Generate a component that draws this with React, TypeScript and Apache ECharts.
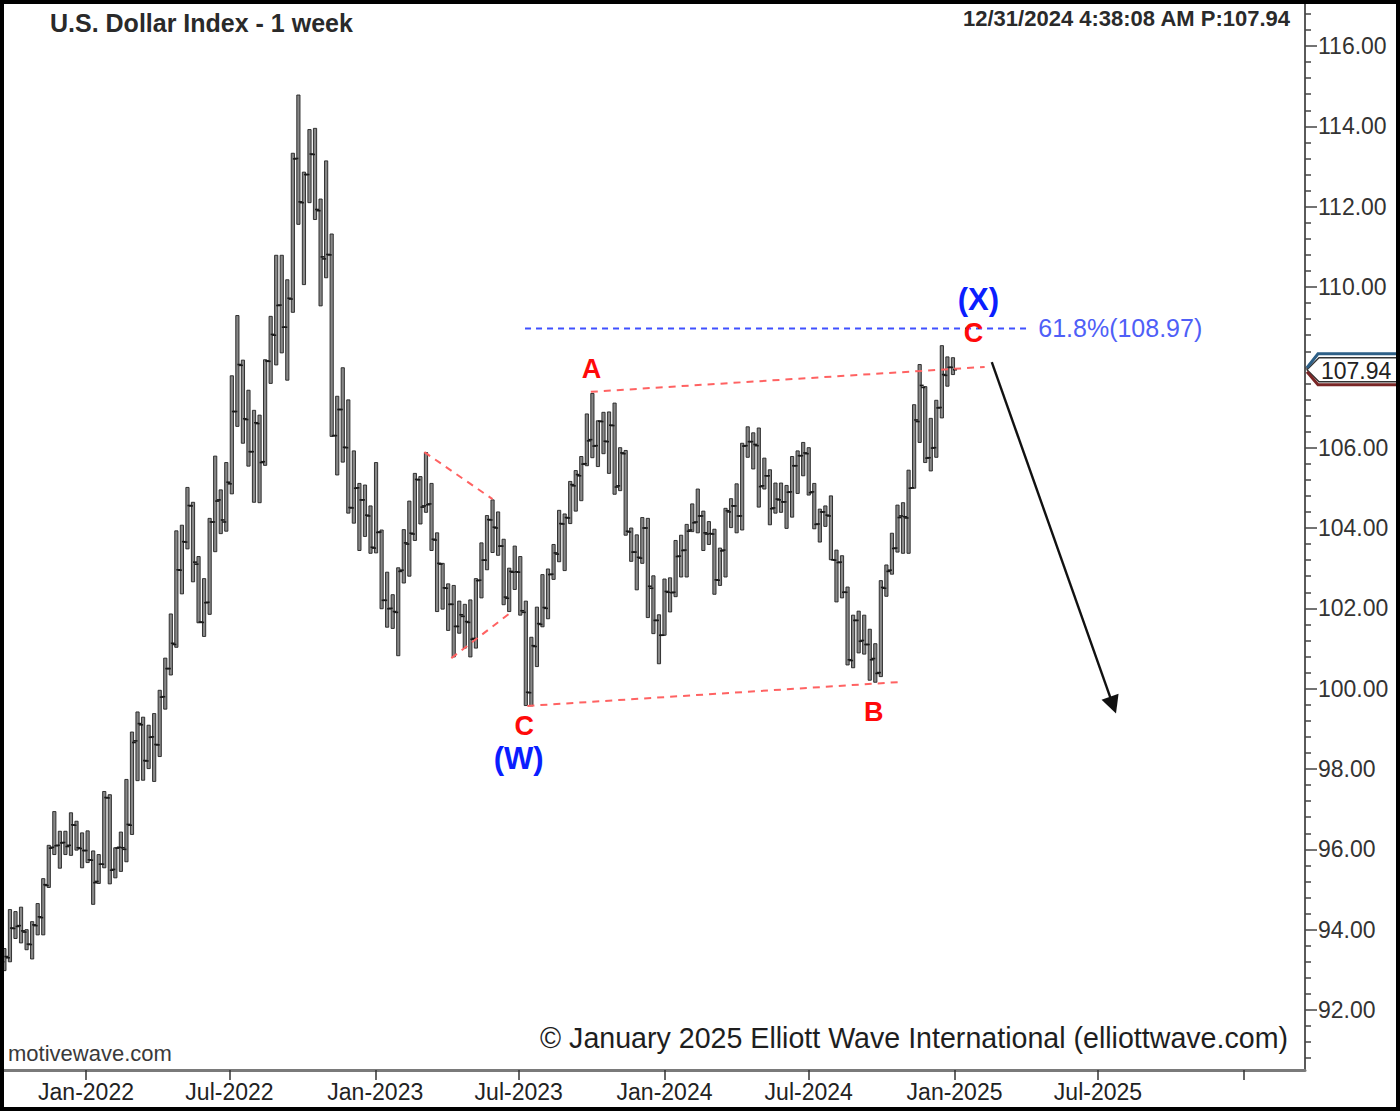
import React, { useEffect, useRef } from "react";
import * as echarts from "echarts";

// ---------- data (weekly OHLC of the U.S. Dollar Index, weeks start on Monday) ----------
const FIRST_WEEK = "2021-09-20";

const OHLC_2021: number[][] = [
  [93.2, 93.53, 92.98, 93.33], [93.3, 94.5, 93.2, 94.04], [94.03, 94.45, 93.78, 94.08],
  [94.1, 94.56, 93.67, 93.97], [93.94, 94.0, 93.5, 93.64], [93.63, 94.2, 93.27, 94.12],
  [94.1, 94.65, 93.87, 94.32], [94.3, 95.27, 93.87, 95.12], [95.1, 96.1, 95.05, 96.03],
  [96.05, 96.94, 95.87, 96.09], [96.1, 96.45, 95.53, 96.16], [96.17, 96.45, 95.87, 96.07],
  [96.1, 96.91, 95.85, 96.61], [96.6, 96.7, 95.98, 96.04], [96.02, 96.41, 95.54, 95.97],
];

const OHLC_2022: number[][] = [
  [95.97, 96.46, 95.67, 95.74], [95.73, 95.96, 94.63, 95.17], [95.2, 95.87, 95.15, 95.63],
  [95.63, 97.44, 95.54, 97.29], [97.28, 97.36, 95.14, 95.48], [95.5, 96.04, 95.29, 96.03],
  [96.05, 96.43, 95.45, 96.04], [96.0, 97.74, 95.69, 96.62], [96.6, 98.92, 96.37, 98.66],
  [98.7, 99.42, 97.71, 99.13], [99.1, 99.29, 97.72, 98.21], [98.2, 99.09, 98.01, 98.79],
  [98.8, 99.38, 97.69, 98.61], [98.6, 99.96, 98.31, 99.79], [99.8, 100.76, 99.49, 100.5],
  [100.5, 101.86, 100.34, 101.13], [101.1, 103.93, 101.03, 102.96], [102.95, 104.07, 102.36, 103.66],
  [103.65, 105.01, 103.48, 104.56], [104.55, 104.64, 102.66, 103.15], [103.1, 103.29, 101.64, 101.66],
  [101.65, 102.74, 101.3, 102.14], [102.15, 104.24, 101.85, 104.15], [104.15, 105.79, 103.41, 104.67],
  [104.7, 104.95, 103.86, 104.2], [104.15, 105.63, 103.92, 105.14], [105.1, 107.79, 104.85, 106.9],
  [106.9, 109.29, 106.53, 108.07], [108.05, 108.18, 106.11, 106.72], [106.7, 107.43, 105.54, 105.9],
  [105.9, 106.93, 104.64, 106.62], [106.6, 106.81, 104.63, 105.63], [105.65, 108.19, 105.56, 108.16],
  [108.15, 109.27, 107.6, 108.82], [108.8, 110.79, 108.06, 109.54], [109.55, 110.79, 108.36, 109.0],
  [109.0, 110.18, 107.68, 109.72], [109.7, 113.33, 109.37, 113.19], [113.2, 114.78, 111.56, 112.12],
  [112.1, 112.86, 110.06, 112.8], [112.8, 113.92, 112.1, 113.31], [113.3, 113.95, 111.68, 111.93],
  [111.9, 112.19, 109.53, 110.75], [110.7, 113.14, 110.23, 110.81], [110.8, 111.32, 106.28, 106.3],
  [106.3, 107.28, 105.32, 106.95], [106.95, 107.99, 105.64, 106.01], [106.0, 107.19, 104.37, 104.51],
  [104.5, 105.92, 104.12, 104.99], [105.0, 105.11, 103.44, 104.7], [104.7, 105.07, 103.79, 104.32],
  [104.3, 104.55, 103.37, 103.52],
];

const OHLC_2023: number[][] = [
  [103.5, 105.63, 103.38, 103.89], [103.9, 103.95, 101.99, 102.2], [102.2, 102.9, 101.53, 101.99],
  [102.0, 102.34, 101.5, 101.92], [101.9, 103.01, 100.82, 102.92], [102.95, 103.96, 102.63, 103.63],
  [103.6, 104.67, 102.8, 103.87], [103.85, 105.36, 103.69, 105.21], [105.2, 105.28, 104.1, 104.52],
  [104.55, 105.88, 104.39, 104.58], [104.6, 105.11, 103.44, 103.72], [103.7, 103.88, 101.92, 103.12],
  [103.1, 103.12, 101.98, 102.51], [102.5, 102.61, 101.45, 102.1], [102.1, 102.57, 100.79, 101.55],
  [101.55, 102.18, 101.38, 101.84], [101.8, 102.1, 101.01, 101.67], [101.65, 102.21, 100.79, 101.23],
  [101.25, 102.74, 101.01, 102.69], [102.7, 103.63, 102.26, 103.2], [103.2, 104.31, 102.96, 104.21],
  [104.2, 104.7, 103.39, 104.02], [104.0, 104.4, 103.32, 103.55], [103.55, 103.72, 102.09, 102.28],
  [102.25, 103.0, 101.92, 102.92], [102.9, 103.55, 102.47, 102.91], [102.9, 103.29, 101.83, 101.94],
  [101.9, 102.18, 99.58, 99.91], [99.9, 101.28, 99.57, 101.07], [101.05, 102.03, 100.55, 101.62],
  [101.6, 102.84, 101.54, 102.02], [102.0, 102.98, 101.74, 102.84], [102.85, 103.59, 102.72, 103.38],
  [103.35, 104.44, 103.16, 104.11], [104.1, 104.35, 102.94, 104.26], [104.25, 105.16, 104.11, 105.08],
  [105.05, 105.43, 104.42, 105.33], [105.3, 105.78, 104.68, 105.59], [105.6, 106.84, 105.55, 106.17],
  [106.2, 107.35, 105.75, 106.04], [106.05, 106.67, 105.53, 106.66], [106.65, 106.88, 105.85, 106.16],
  [106.15, 106.89, 105.36, 106.56], [106.55, 107.11, 104.84, 105.02], [105.05, 106.0, 104.93, 105.87],
  [105.85, 105.93, 103.82, 103.92], [103.9, 104.0, 103.17, 103.4], [103.4, 103.83, 102.46, 103.27],
  [103.25, 104.26, 103.12, 104.0], [104.0, 104.24, 101.77, 102.55], [102.5, 102.81, 101.37, 101.7],
  [101.7, 101.84, 100.62, 101.33],
];

const OHLC_2024: number[][] = [
  [101.33, 102.73, 101.33, 102.42], [102.4, 102.76, 101.91, 102.39], [102.4, 103.69, 102.29, 103.29],
  [103.3, 103.82, 102.78, 103.44], [103.45, 104.09, 102.78, 103.92], [103.95, 104.6, 103.91, 104.13],
  [104.15, 104.97, 103.88, 104.3], [104.3, 104.42, 103.44, 103.88], [103.85, 104.16, 103.59, 103.86],
  [103.85, 103.97, 102.35, 102.71], [102.7, 103.5, 102.57, 103.43], [103.45, 104.49, 102.78, 104.43],
  [104.4, 104.73, 104.01, 104.55], [104.55, 105.1, 103.88, 104.3], [104.3, 106.11, 103.95, 106.04],
  [106.05, 106.52, 105.76, 106.15], [106.15, 106.37, 105.47, 106.08], [106.05, 106.49, 104.52, 105.03],
  [105.05, 105.74, 104.97, 105.3], [105.3, 105.45, 104.08, 104.48], [104.5, 105.12, 104.37, 104.72],
  [104.7, 105.12, 104.39, 104.65], [104.65, 105.06, 103.99, 104.89], [104.9, 105.78, 104.27, 105.55],
  [105.55, 105.92, 104.86, 105.8], [105.8, 106.13, 105.3, 105.87], [105.85, 106.0, 104.82, 104.88],
  [104.9, 105.11, 103.98, 104.09], [104.1, 104.47, 103.65, 104.4], [104.4, 104.55, 104.04, 104.32],
  [104.3, 104.8, 103.21, 103.21], [103.2, 103.45, 102.16, 103.14], [103.15, 103.31, 102.26, 102.4],
  [102.4, 102.53, 100.59, 100.72], [100.7, 101.83, 100.52, 101.7], [101.7, 101.93, 100.89, 101.18],
  [101.2, 101.83, 100.86, 101.1], [101.1, 101.48, 100.21, 100.72], [100.75, 101.12, 100.16, 100.38],
  [100.4, 102.69, 100.3, 102.52], [102.5, 103.08, 102.3, 102.92], [102.95, 103.87, 102.85, 103.49],
  [103.5, 104.57, 103.4, 104.26], [104.3, 104.63, 103.37, 104.28], [104.25, 105.44, 103.37, 104.99],
  [105.0, 107.07, 104.99, 106.69], [106.65, 108.07, 106.13, 107.55], [107.5, 107.52, 105.63, 105.74],
  [105.75, 106.73, 105.42, 105.99], [106.0, 107.18, 105.76, 106.99], [107.0, 108.54, 106.74, 107.82],
  [107.8, 108.26, 107.53, 108.0], [108.0, 108.24, 107.82, 107.94],
];

const LAST_PRICE = 107.94;
const FIB_LEVEL = 108.97;

// axis ticks / labels
const X_TICK_DATES = [
  "2022-01-01", "2022-07-01", "2023-01-01", "2023-07-01", "2024-01-01",
  "2024-07-01", "2025-01-01", "2025-07-01", "2026-01-01",
];
const X_LABEL_DATES = X_TICK_DATES.slice(0, 8);
const Y_MAJOR = [92, 94, 96, 98, 100, 102, 104, 106, 108, 110, 112, 114, 116];
// 108.00 sits under the last-price tag and is not shown
const Y_LABELS = Y_MAJOR.filter((v) => v !== 108);

// annotation anchors (data coordinates)
const CHANNEL_LOW = [["2023-07-12", 99.57], ["2024-10-27", 100.17]];
const CHANNEL_HIGH = [["2023-09-30", 107.39], ["2025-02-08", 108.01]];
const TRI_TOP = [["2023-03-04", 105.89], ["2023-05-29", 104.72]];
const TRI_BOTTOM = [["2023-04-07", 100.76], ["2023-06-20", 101.88]];
const FIB_LINE = [["2023-07-09", FIB_LEVEL], ["2025-04-06", FIB_LEVEL]];
const ARROW = [["2025-02-17", 108.13], ["2025-07-20", 99.59]];
const WAVE_LABELS = [
  { text: "A", date: "2023-10-01", value: 107.96, kind: "red" },
  { text: "B", date: "2024-09-21", value: 99.42, kind: "red" },
  { text: "C", date: "2023-07-08", value: 99.07, kind: "red" },
  { text: "(W)", date: "2023-07-01", value: 98.25, kind: "blue" },
  { text: "C", date: "2025-01-25", value: 108.855, kind: "red" },
  { text: "(X)", date: "2025-01-31", value: 109.7, kind: "blue" },
];
const FIB_LABEL = { text: "61.8%(108.97)", date: "2025-04-16", value: 108.97 };

// ---------- helpers ----------
const DAY = 86400000;
const toTime = (s: string) =>
  Date.UTC(+s.slice(0, 4), +s.slice(5, 7) - 1, +s.slice(8, 10));
const MONTHS = ["Jan", "Feb", "Mar", "Apr", "May", "Jun", "Jul", "Aug", "Sep", "Oct", "Nov", "Dec"];
const FONT = "'Liberation Sans', Arial, Helvetica, sans-serif";
const RED = "#ff0a0a";
const BLUE = "#0a1eff";

export default function App() {
  const ref = useRef<HTMLDivElement>(null);

  useEffect(() => {
    if (!ref.current) return;
    const chart = echarts.init(ref.current, undefined, { renderer: "svg" });

    const all = [...OHLC_2021, ...OHLC_2022, ...OHLC_2023, ...OHLC_2024];
    const t0 = toTime(FIRST_WEEK);
    const bars = all.map((r, i) => [t0 + i * 7 * DAY, r[0], r[1], r[2], r[3]]);

    const xMin = Date.UTC(2021, 8, 19, 12);
    const xMax = Date.UTC(2026, 2, 19, 6);
    const yMin = 90.506;
    const yMax = 117.046;

    const minor: number[] = [];
    for (let k = 0; k * 0.4 + 90.8 < yMax; k++) {
      const v = Math.round((90.8 + k * 0.4) * 10) / 10;
      if (Math.abs(v / 2 - Math.round(v / 2)) > 1e-6) minor.push(v);
    }

    const seg = (pts: (string | number)[][]) =>
      pts.map((p) => [toTime(p[0] as string), p[1] as number]);

    const dashed = (pts: (string | number)[][], color: string, dash: number[]) => ({
      type: "line",
      data: seg(pts),
      showSymbol: false,
      symbol: "none",
      silent: true,
      z: 4,
      lineStyle: { color, width: 2, type: dash, opacity: 1 },
      xAxisIndex: 0,
      yAxisIndex: 0,
    });

    const labelData = WAVE_LABELS.map((w) => ({
      value: [toTime(w.date), w.value],
      label: {
        show: true,
        formatter: w.text,
        position: "inside",
        color: w.kind === "red" ? RED : BLUE,
        opacity: 1,
        fontFamily: FONT,
        fontWeight: "bold",
        fontSize: w.kind === "red" ? 27 : 31,
      },
    }));

    const option: any = {
      animation: false,
      backgroundColor: "#ffffff",
      grid: { left: 4, right: 95, top: 4, bottom: 41, containLabel: false },
      xAxis: {
        type: "value",
        min: xMin,
        max: xMax,
        scale: true,
        splitLine: { show: false },
        axisLine: { show: true, onZero: false, lineStyle: { color: "#7a7a7a", width: 3 } },
        axisTick: {
          show: true,
          length: 10,
          lineStyle: { color: "#333", width: 1.5 },
          customValues: X_TICK_DATES.map(toTime),
        },
        axisLabel: {
          show: true,
          customValues: X_LABEL_DATES.map(toTime),
          margin: 10,
          fontSize: 23,
          fontFamily: FONT,
          color: "#222",
          formatter: (v: number) => {
            const d = new Date(v);
            return MONTHS[d.getUTCMonth()] + "-" + d.getUTCFullYear();
          },
        },
      },
      yAxis: [
        {
          type: "value",
          position: "right",
          min: yMin,
          max: yMax,
          scale: true,
          splitLine: { show: false },
          axisLine: { show: true, lineStyle: { color: "#5a5a5a", width: 2 } },
          axisTick: {
            show: true,
            length: 12,
            lineStyle: { color: "#444", width: 1.5 },
            customValues: Y_MAJOR,
          },
          axisLabel: {
            show: true,
            customValues: Y_LABELS,
            margin: 13,
            fontSize: 23,
            fontFamily: FONT,
            color: "#333",
            formatter: (v: number) => v.toFixed(2),
          },
        },
        {
          type: "value",
          position: "right",
          min: yMin,
          max: yMax,
          scale: true,
          splitLine: { show: false },
          axisLine: { show: false },
          axisTick: {
            show: true,
            length: 6,
            lineStyle: { color: "#444", width: 1.5 },
            customValues: minor,
          },
          axisLabel: { show: false },
        },
      ],
      series: [
        {
          type: "custom",
          name: "DXY",
          data: bars,
          dimensions: ["time", "open", "high", "low", "close"],
          encode: { x: 0, y: [1, 2, 3, 4] },
          xAxisIndex: 0,
          yAxisIndex: 0,
          z: 3,
          renderItem: (params: any, api: any) => {
            const t = api.value(0);
            const pO = api.coord([t, api.value(1)]);
            const pH = api.coord([t, api.value(2)]);
            const pL = api.coord([t, api.value(3)]);
            const pC = api.coord([t, api.value(4)]);
            const x = pH[0];
            const bw = 3.2;
            return {
              type: "group",
              children: [
                {
                  type: "rect",
                  shape: { x: x - bw / 2, y: pH[1], width: bw, height: Math.max(1, pL[1] - pH[1]) },
                  style: { fill: "#878787", stroke: "#222", lineWidth: 0.9 },
                },
                {
                  type: "line",
                  shape: { x1: x - bw / 2 - 2.4, y1: pO[1], x2: x, y2: pO[1] },
                  style: { stroke: "#1a1a1a", lineWidth: 1.6 },
                },
                {
                  type: "line",
                  shape: { x1: x, y1: pC[1], x2: x + bw / 2 + 2.4, y2: pC[1] },
                  style: { stroke: "#1a1a1a", lineWidth: 1.6 },
                },
              ],
            };
          },
        },
        dashed(CHANNEL_LOW, "#ff6262", [7, 6]),
        dashed(CHANNEL_HIGH, "#ff6262", [7, 6]),
        dashed(TRI_TOP, "#ff6262", [7, 6]),
        dashed(TRI_BOTTOM, "#ff6262", [7, 6]),
        dashed(FIB_LINE, "#3f50ff", [6, 5]),
        {
          type: "lines",
          coordinateSystem: "cartesian2d",
          xAxisIndex: 0,
          yAxisIndex: 0,
          silent: true,
          z: 5,
          symbol: ["none", "triangle"],
          symbolSize: [12, 18],
          lineStyle: { color: "#111", width: 2.4, opacity: 1, curveness: 0 },
          data: [{ coords: seg(ARROW) }],
        },
        {
          type: "scatter",
          silent: true,
          z: 6,
          symbol: "circle",
          symbolSize: 1,
          itemStyle: { color: "rgba(0,0,0,0)", opacity: 1 },
          data: labelData,
        },
        {
          type: "scatter",
          silent: true,
          z: 6,
          symbol: "circle",
          symbolSize: 1,
          itemStyle: { color: "rgba(0,0,0,0)", opacity: 1 },
          data: [
            {
              value: [toTime(FIB_LABEL.date), FIB_LABEL.value],
              label: {
                show: true,
                formatter: FIB_LABEL.text,
                position: "right",
                distance: 0,
                color: "#4f5ff7",
                opacity: 1,
                fontFamily: FONT,
                fontSize: 25,
              },
            },
          ],
        },
      ],
    };

    chart.setOption(option);

    const py = chart.convertToPixel({ yAxisIndex: 0 }, LAST_PRICE) as number;
    const txt = (text: string, x: number, y: number, size: number, weight: string, fill: string, align: string) => ({
      type: "text",
      x,
      y,
      z: 100,
      silent: true,
      style: {
        text,
        fill,
        fontSize: size,
        fontWeight: weight,
        fontFamily: FONT,
        align,
        verticalAlign: "middle",
        textAlign: align,
        textVerticalAlign: "middle",
      },
    });

    chart.setOption({
      graphic: [
        txt("U.S. Dollar Index - 1 week", 50, 23, 25, "bold", "#2a2a2a", "left"),
        txt("12/31/2024 4:38:08 AM P:107.94", 1290, 18, 22, "bold", "#2a2a2a", "right"),
        txt("© January 2025 Elliott Wave International (elliottwave.com)", 1288, 1038, 28.6, "normal", "#1e1e1e", "right"),
        txt("motivewave.com", 8, 1053, 22, "normal", "#3a3a3a", "left"),
        // price tag
        {
          type: "polygon",
          z: 90,
          silent: true,
          shape: { points: [[1307, py], [1319, py - 12], [1397, py - 12], [1397, py + 12], [1319, py + 12]] },
          style: { fill: "#ffffff", stroke: "#333", lineWidth: 1.4 },
        },
        {
          type: "polyline",
          z: 91,
          silent: true,
          shape: { points: [[1307, py - 2], [1318, py - 16], [1397, py - 16]] },
          style: { stroke: "#2d5f86", lineWidth: 3, fill: "none" },
        },
        {
          type: "polyline",
          z: 91,
          silent: true,
          shape: { points: [[1307, py + 2], [1318, py + 15], [1397, py + 15]] },
          style: { stroke: "#7a2626", lineWidth: 3, fill: "none" },
        },
        txt(LAST_PRICE.toFixed(2), 1321, py + 1, 23, "normal", "#222", "left"),
        // outer frame
        { type: "rect", z: 120, silent: true, shape: { x: 0, y: 0, width: 1400, height: 4 }, style: { fill: "#000" } },
        { type: "rect", z: 120, silent: true, shape: { x: 0, y: 0, width: 4, height: 1111 }, style: { fill: "#000" } },
        { type: "rect", z: 120, silent: true, shape: { x: 0, y: 1107, width: 1400, height: 4 }, style: { fill: "#000" } },
        { type: "rect", z: 120, silent: true, shape: { x: 1396, y: 0, width: 4, height: 1111 }, style: { fill: "#000" } },
      ],
    });

    return () => chart.dispose();
  }, []);

  return (
    <div
      ref={ref}
      style={{ position: "fixed", left: 0, top: 0, width: 1400, height: 1111, background: "#fff" }}
    />
  );
}
